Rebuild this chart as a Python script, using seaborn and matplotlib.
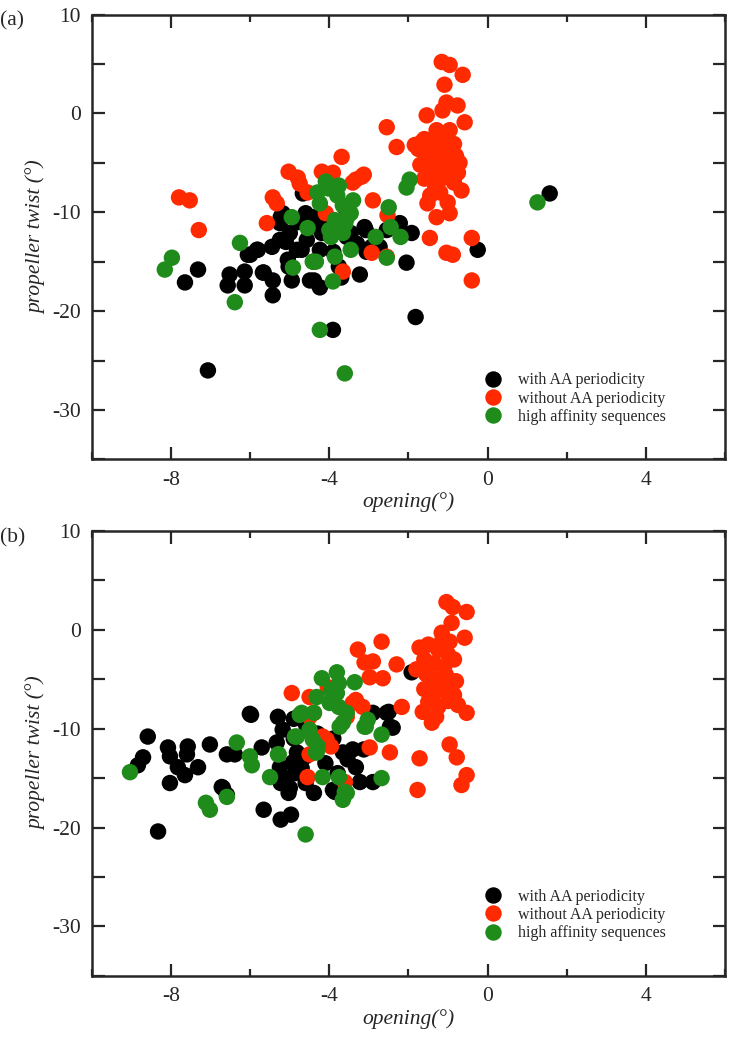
import numpy as np
import pandas as pd
import matplotlib
matplotlib.use("Agg")
import matplotlib.pyplot as plt
from matplotlib.ticker import MultipleLocator, FuncFormatter
import seaborn as sns

# ---- data (opening, propeller twist) ----
GROUPS = ["with AA periodicity", "without AA periodicity", "high affinity sequences"]

# panel (a)
a_with_x = [1.57, -0.25, -2.05, -1.82, -3.91, -7.07, -7.65, -7.32, -6.52, -6.57, -6.14, -6.14,
            -5.83, -6.06, -5.68, -5.43, -5.43, -5.45, -5.25, -5.25, -5.18, -5.0, -5.05, -4.95,
            -4.82, -4.57, -4.62, -4.67, -4.42, -4.49, -4.24, -4.24, -3.11, -3.06, -2.73, -3.56,
            -1.92, -2.22, -3.23, -3.61, -3.46, -3.08, -2.55, -4.19, -3.76, -5.03, -4.7, -5.23,
            -5.81, -5.66, -4.39, -4.6, -2.93, -6.0, -4.3, -3.9, -4.0, -3.3, -4.8, -5.1, -4.4, -3.7]
a_with_y = [-8.1, -13.8, -15.1, -20.6, -21.9, -26.0, -17.1, -15.8, -16.3, -17.4, -16.0, -17.4,
            -13.8, -14.3, -16.1, -18.4, -16.9, -13.5, -12.8, -11.1, -10.1, -12.1, -14.8, -16.9,
            -13.8, -12.8, -10.5, -8.1, -10.5, -16.9, -17.6, -13.8, -11.5, -14.0, -13.5, -12.5,
            -12.1, -11.1, -16.3, -9.5, -12.1, -11.8, -11.8, -12.1, -15.5, -15.5, -13.8, -10.5,
            -13.8, -16.1, -16.9, -10.1, -13.5, -14.3, -11.5, -14.0, -10.8, -13.2, -11.0, -13.0, -15.0, -16.6]

a_without_x = [-7.8, -7.53, -7.3, -5.43, -5.33, -5.58, -5.03, -4.8, -4.75, -4.55, -4.19, -3.91,
               -3.69, -3.33, -3.13, -3.66, -3.18, -3.41, -2.9, -2.55, -2.3, -2.93, -2.55, -1.16,
               -0.96, -0.63, -1.09, -1.04, -0.76, -1.14, -1.54, -0.58, -1.29, -0.96, -1.84, -0.71,
               -0.66, -1.34, -1.52, -1.01, -1.29, -0.96, -1.46, -0.4, -1.04, -0.88, -0.4, -2.53,
               -4.09, -1.67, -1.6, -1.35, -1.1, -0.85, -1.55, -1.3, -1.05, -0.8, -1.5, -1.25,
               -1.0, -0.75, -1.6, -1.35, -1.1, -0.85, -1.45, -1.2, -1.75, -1.7]
a_without_y = [-8.5, -8.8, -11.8, -8.5, -9.1, -11.1, -5.9, -6.5, -7.1, -8.0, -5.9, -6.0,
               -4.4, -6.7, -6.2, -16.0, -6.4, -7.0, -8.8, -1.4, -3.4, -14.1, -14.5, 5.2,
               4.9, 3.9, 2.9, 1.1, 0.8, 0.3, -0.2, -0.9, -1.7, -1.7, -3.2, -5.0,
               -7.8, -7.8, -9.1, -9.0, -10.5, -10.1, -12.6, -12.6, -14.1, -14.3, -16.9, -10.3,
               -10.1, -2.9, -2.6, -3.0, -2.5, -3.1, -4.1, -4.5, -4.0, -4.3, -5.4, -5.8,
               -5.3, -6.0, -6.6, -7.0, -6.5, -7.0, -8.3, -8.0, -3.6, -5.2]

a_high_x = [-8.16, -7.98, -6.26, -6.39, -4.95, -4.92, -4.55, -4.42, -4.24, -3.61, -3.91, -4.09,
            -3.76, -4.24, -3.66, -3.46, -3.86, -3.96, -3.66, -3.46, -3.86, -4.34, -2.5, -2.45,
            -2.83, -2.2, -2.55, -1.97, -2.05, 1.26, -4.02, -3.56, -3.8, -4.0, -3.6, -4.3, -3.4]
a_high_y = [-15.8, -14.6, -13.1, -19.1, -10.5, -15.6, -11.6, -15.0, -21.9, -26.3, -17.0, -6.9,
            -7.3, -9.1, -9.3, -10.1, -10.8, -12.5, -12.1, -13.8, -14.5, -15.0, -9.5, -11.5,
            -12.5, -12.5, -14.6, -6.7, -7.5, -9.0, -7.6, -10.6, -8.3, -11.8, -11.2, -8.0, -8.8]

# panel (b)
b_with_x = [-8.59, -8.71, -8.84, -8.08, -8.03, -7.58, -7.6, -7.83, -7.65, -7.32, -8.03, -7.02,
            -6.72, -6.59, -6.39, -6.01, -5.71, -5.3, -5.18, -5.33, -5.25, -5.18, -4.92, -1.92,
            -2.55, -2.47, -2.9, -3.41, -3.54, -3.23, -2.9, -3.79, -3.91, -8.33, -6.69, -6.59,
            -5.66, -5.23, -4.97, -5.98, -5.23, -5.03, -4.87, -4.6, -4.39, -3.86, -3.33, -2.5,
            -2.4, -3.13, -3.66, -4.82, -4.6, -4.9, -4.6, -4.3, -4.9, -4.7, -5.0, -4.1, -3.9]
b_with_y = [-10.8, -12.9, -13.7, -11.9, -12.8, -11.8, -12.6, -13.9, -14.7, -13.9, -15.5, -11.6,
            -15.9, -12.6, -12.6, -8.5, -11.9, -8.8, -10.1, -11.4, -13.9, -14.9, -13.4, -4.3,
            -8.4, -9.8, -8.4, -12.1, -13.1, -15.4, -15.4, -14.5, -16.2, -20.4, -16.0, -16.7,
            -18.2, -19.2, -18.7, -8.6, -15.5, -16.5, -14.5, -15.5, -16.5, -16.4, -13.9, -8.3,
            -9.9, -12.1, -12.4, -12.4, -12.8, -9.0, -9.5, -10.5, -11.0, -14.0, -16.0, -13.5, -11.0]

b_without_x = [-4.95, -4.5, -4.04, -4.17, -4.5, -4.55, -4.5, -1.04, -0.88, -0.53, -0.91, -1.16,
               -0.58, -0.96, -1.72, -2.68, -3.28, -2.9, -3.11, -2.3, -2.98, -2.65, -0.53, -2.17,
               -1.41, -1.64, -0.96, -0.78, -0.53, -0.66, -1.72, -1.77, -2.47, -2.98, -3.61, -3.41,
               -3.16, -4.07, -3.33, -3.96, -3.56, -4.39, -1.5, -1.25, -1.0, -1.6, -1.35, -1.1,
               -0.85, -1.55, -1.3, -1.05, -0.8, -1.6, -1.35, -1.1, -0.85, -1.5, -1.25, -1.0,
               -0.75, -1.3, -1.8, -1.15]
b_without_y = [-6.4, -6.8, -5.8, -10.8, -8.8, -14.9, -12.6, 2.8, 2.3, 1.8, 0.7, -0.3,
               -0.8, -1.2, -1.8, -1.2, -2.0, -3.2, -3.3, -3.5, -4.8, -4.9, -8.4, -7.8,
               -9.4, -8.3, -11.6, -12.9, -14.7, -15.7, -13.0, -16.2, -12.4, -11.9, -15.4, -7.4,
               -7.8, -11.1, -7.1, -11.8, -8.8, -8.4, -1.5, -2.0, -2.5, -3.0, -3.4, -3.8,
               -3.0, -4.5, -5.0, -4.6, -5.2, -6.0, -6.4, -6.0, -6.6, -7.3, -7.8, -7.2,
               -7.6, -8.8, -4.0, -1.1]

b_high_x = [-9.04, -6.34, -6.01, -5.96, -5.3, -5.5, -4.87, -4.75, -4.32, -4.19, -4.5, -4.42,
            -4.32, -4.17, -3.36, -3.11, -2.68, -2.68, -3.81, -3.99, -3.74, -3.61, -3.81, -3.76,
            -3.96, -3.76, -3.56, -3.66, -4.39, -4.29, -4.34, -3.76, -3.56, -3.66, -3.08, -3.03,
            -4.82, -4.7, -4.6, -7.12, -7.02, -6.59, -5.28]
b_high_y = [-14.4, -11.4, -12.8, -13.7, -12.6, -14.9, -10.8, -8.6, -6.8, -4.9, -10.1, -11.1,
            -12.4, -14.9, -5.3, -9.8, -10.6, -15.0, -6.4, -7.4, -9.8, -16.4, -4.3, -5.4,
            -6.1, -7.8, -8.4, -9.4, -8.4, -11.8, -12.4, -14.9, -16.5, -17.2, -9.8, -9.1,
            -10.8, -8.4, -20.7, -17.5, -18.2, -16.9, -12.6]

# ---- configs ----
BLACK = "#000000"
RED = "#ff2a00"
GREEN = "#1f8b1a"
palette = [BLACK, RED, GREEN]


def make_df(xs_list, ys_list):
    frames = []
    for grp, xs, ys in zip(GROUPS, xs_list, ys_list):
        frames.append(pd.DataFrame({"opening": xs, "twist": ys, "group": grp}))
    return pd.concat(frames, ignore_index=True)


def ten_only(v, pos):
    if abs(v % 10) < 1e-6:
        return f"{int(round(v))}"
    return ""


def draw_panel(ax, df, tag):
    sns.scatterplot(data=df, x="opening", y="twist", hue="group", hue_order=GROUPS,
                    palette=palette, s=140, linewidth=0, alpha=1, ax=ax)
    ax.set_xlim(-10, 6)
    ax.set_ylim(-35, 10)
    ax.xaxis.set_major_locator(MultipleLocator(4))
    ax.xaxis.set_minor_locator(MultipleLocator(2))
    ax.yaxis.set_major_locator(MultipleLocator(5))
    ax.yaxis.set_major_formatter(FuncFormatter(ten_only))
    ax.tick_params(which="both", direction="in", top=True, right=True, width=1.6,
                   labelsize=15.5, pad=8)
    ax.tick_params(which="major", length=9)
    ax.tick_params(which="minor", length=5)
    for sp in ax.spines.values():
        sp.set_linewidth(1.8)
    ax.set_xlabel("opening(°)", fontsize=15.5, style="italic", labelpad=2)
    ax.set_ylabel("propeller twist (°)", fontsize=15.5, style="italic", labelpad=4)
    sns.move_legend(ax, loc="lower left", bbox_to_anchor=(0.585, 0.045), frameon=False,
                    title=None, fontsize=11.5, handletextpad=0.6, labelspacing=0.15,
                    markerscale=1.0)
    ax.text(-0.145, 0.985, tag, transform=ax.transAxes, fontsize=15.5, va="center", ha="left")


sns.set_style("ticks")
plt.rcParams["font.family"] = ["Liberation Serif", "DejaVu Serif"]
plt.rcParams["axes.unicode_minus"] = False

fig = plt.figure(figsize=(7.36, 10.37), dpi=100)
ax_a = fig.add_axes([0.125, 0.557, 0.86, 0.429])
ax_b = fig.add_axes([0.125, 0.059, 0.86, 0.429])

df_a = make_df([a_with_x, a_without_x, a_high_x], [a_with_y, a_without_y, a_high_y])
df_b = make_df([b_with_x, b_without_x, b_high_x], [b_with_y, b_without_y, b_high_y])

draw_panel(ax_a, df_a, "(a)")
draw_panel(ax_b, df_b, "(b)")

fig.savefig("out.png", dpi=100)
